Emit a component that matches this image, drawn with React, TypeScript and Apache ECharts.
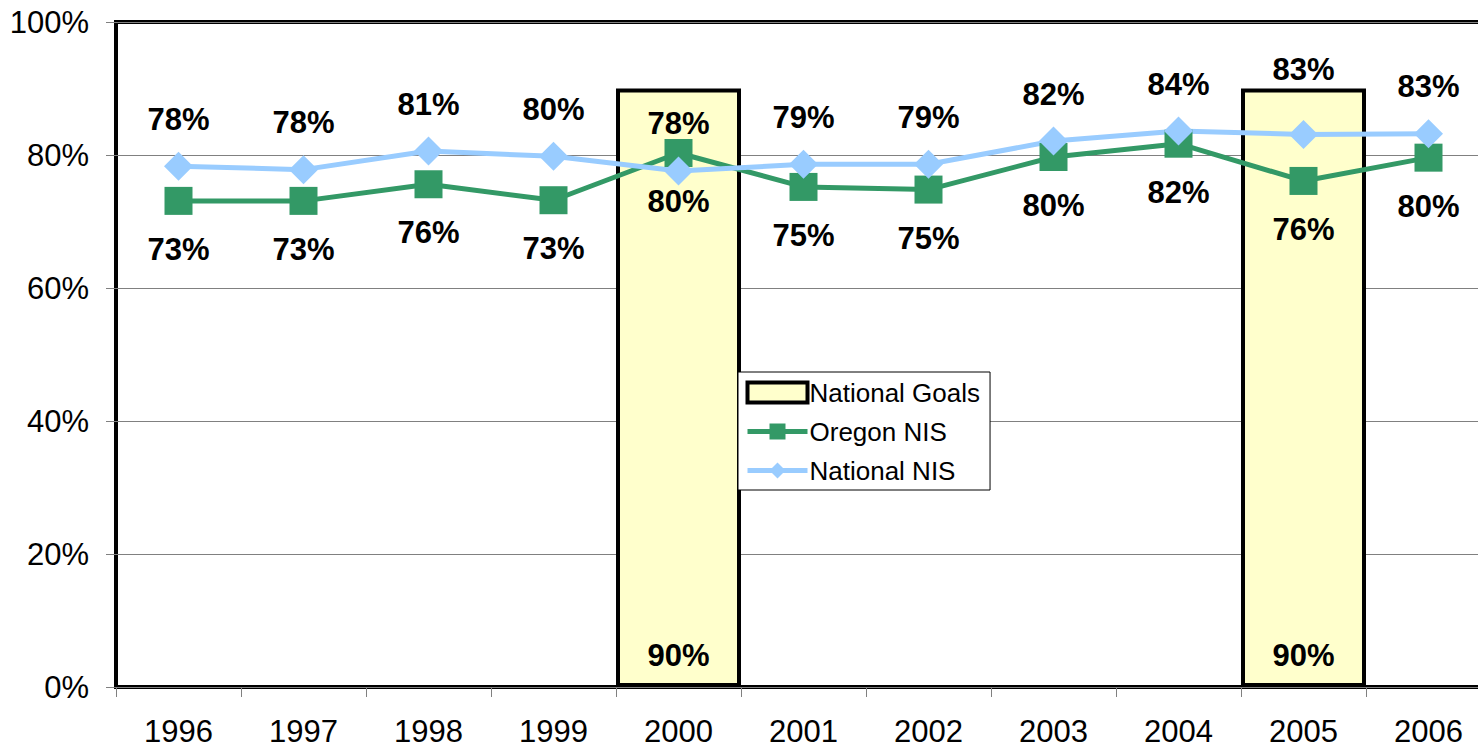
import React, { useEffect, useRef } from "react";
import * as echarts from "echarts";

const years = ["1996", "1997", "1998", "1999", "2000", "2001", "2002", "2003", "2004", "2005", "2006"];
const nationalGoals = [null, null, null, null, 90, null, null, null, null, 90, null];
const oregonNIS = [73.1, 73.1, 75.6, 73.2, 80.3, 75.2, 74.8, 79.7, 81.7, 76.1, 79.6];
const nationalNIS = [78.3, 77.8, 80.6, 79.8, 77.6, 78.6, 78.6, 82.1, 83.6, 83.1, 83.2];
const yTicks = { min: 0, max: 100, interval: 20 };

const FONT = "'Liberation Sans', Arial, sans-serif";

export default function App() {
  const ref = useRef<HTMLDivElement>(null);
  useEffect(() => {
    if (!ref.current) return;
    const chart = echarts.init(ref.current, undefined, { renderer: "svg" });
    const labelStyle = {
      show: true,
      color: "#000",
      fontFamily: FONT,
      fontWeight: "bold" as const,
      fontSize: 31,
      formatter: (p: any) => Math.round(p.value) + "%",
    };
    chart.setOption({
      animation: false,
      backgroundColor: "#fff",
      textStyle: { fontFamily: FONT },
      grid: {
        left: 116,
        top: 22,
        width: 1375,
        height: 665,
        show: true,
        borderColor: "#000",
        borderWidth: 4,
        backgroundColor: "transparent",
        containLabel: false,
      },
      legend: {
        orient: "vertical",
        left: 738,
        top: 372,
        align: "left",
        backgroundColor: "#fff",
        borderColor: "#000",
        borderWidth: 1,
        padding: [6, 10, 5, 7],
        itemWidth: 60,
        itemHeight: 20,
        itemGap: 10,
        textStyle: { fontFamily: FONT, fontSize: 26, color: "#000", lineHeight: 29, padding: [0, 0, 0, -3] },
        data: [
          { name: "National Goals", icon: "rect", itemStyle: { borderWidth: 4, borderColor: "#000" } },
          { name: "Oregon NIS", lineStyle: { width: 5 } },
          { name: "National NIS", lineStyle: { width: 5 } },
        ],
      },
      xAxis: {
        type: "category",
        data: years,
        boundaryGap: true,
        axisLine: { show: false },
        axisTick: { show: true, length: 10, lineStyle: { color: "#808080", width: 1 } },
        axisLabel: { color: "#000", fontSize: 31, lineHeight: 30, fontFamily: FONT, margin: 29 },
        splitLine: { show: false },
      },
      yAxis: {
        type: "value",
        min: yTicks.min,
        max: yTicks.max,
        interval: yTicks.interval,
        axisLine: { show: false },
        axisTick: { show: true, length: 10, lineStyle: { color: "#808080", width: 1 } },
        axisLabel: { color: "#000", fontSize: 31, fontFamily: FONT, margin: 27, formatter: "{value}%" },
        splitLine: { show: true, lineStyle: { color: "#808080", width: 1 } },
      },
      series: [
        {
          name: "National Goals",
          type: "bar",
          data: nationalGoals,
          barWidth: "100%",
          barCategoryGap: "0%",
          itemStyle: { color: "#FFFFCC", borderColor: "#000", borderWidth: 4 },
          label: { ...labelStyle, position: "insideBottom", distance: 16 },
        },
        {
          name: "Oregon NIS",
          type: "line",
          data: oregonNIS,
          symbol: "rect",
          symbolSize: 28,
          itemStyle: { color: "#339966" },
          lineStyle: { color: "#339966", width: 5 },
          label: { ...labelStyle, position: "bottom", distance: 19 },
        },
        {
          name: "National NIS",
          type: "line",
          data: nationalNIS.map((v, i) =>
            years[i] === "2005" ? { value: v, label: { offset: [0, -18] } } : v
          ),
          symbol: "diamond",
          symbolSize: 29,
          itemStyle: { color: "#99CCFF" },
          lineStyle: { color: "#99CCFF", width: 5 },
          label: { ...labelStyle, position: "top", distance: 17 },
        },
      ],
    });
    return () => chart.dispose();
  }, []);
  return (
    <div
      ref={ref}
      style={{ position: "fixed", left: 0, top: 0, width: 1500, height: 748, background: "#fff" }}
    />
  );
}
